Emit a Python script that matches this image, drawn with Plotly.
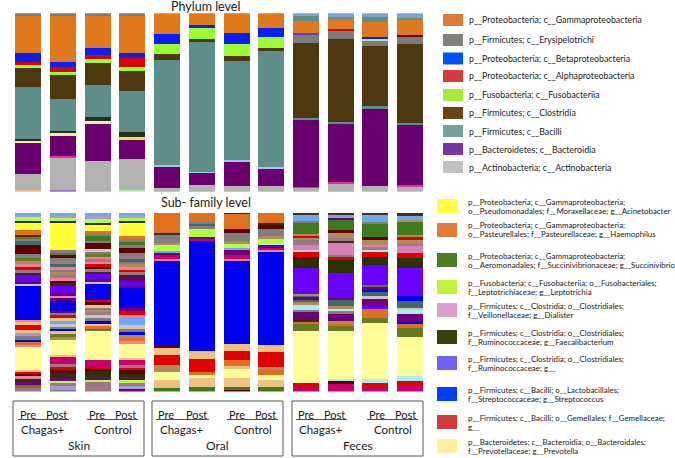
import plotly.graph_objects as go

W, H = 675, 458

samples = ["Skin Chagas+ Pre", "Skin Chagas+ Post", "Skin Control Pre", "Skin Control Post",
           "Oral Chagas+ Pre", "Oral Chagas+ Post", "Oral Control Pre", "Oral Control Post",
           "Feces Chagas+ Pre", "Feces Chagas+ Post", "Feces Control Pre", "Feces Control Post"]

# ---------------- Phylum level (segments listed top -> bottom, % abundance) ----------------
phylum_colors = {
    "gry": "#7C7C7C", "O": "#E0781E", "B": "#0A1EF5", "R": "#DD0000", "L": "#99FF33",
    "N": "#4E380F", "T": "#5F8E8A", "D": "#25301E", "W": "#F3EEA0", "P": "#6A0070",
    "A": "#B2B2B2", "E": "#F0C080", "K": "#E0309A", "U": "#A070C0", "Y": "#F0E040",
    "Lg": "#B8E8B0", "C": "#9CC8F0", "S": "#7FA2CC", "V": "#6040C0", "M": "#700010",
}
ph_skin_chagas_pre = [("gry", 1.3), ("O", 21.1), ("B", 4.7), ("R", 1.9), ("L", 1.5), ("N", 10.7),
                      ("T", 29.0), ("D", 1.5), ("W", 0.9), ("P", 17.2), ("A", 9.3), ("E", 0.9)]
ph_skin_chagas_post = [("gry", 1.3), ("O", 25.8), ("B", 3.2), ("R", 2.8), ("L", 1.5), ("N", 13.6),
                       ("T", 17.6), ("D", 1.5), ("W", 1.3), ("P", 11.4), ("K", 0.7), ("A", 18.3), ("U", 0.9)]
ph_skin_control_pre = [("gry", 1.5), ("O", 18.1), ("B", 3.7), ("R", 2.4), ("L", 2.2), ("N", 12.1),
                       ("T", 18.1), ("D", 2.4), ("W", 1.3), ("P", 20.6), ("A", 17.4)]
ph_skin_control_post = [("gry", 1.3), ("O", 20.7), ("B", 3.2), ("R", 5.0), ("L", 2.1), ("N", 11.0),
                        ("T", 23.0), ("D", 2.8), ("Y", 1.9), ("P", 10.8), ("A", 17.2), ("Lg", 0.9)]
ph_oral_chagas_pre = [("O", 11.6), ("B", 5.8), ("L", 5.6), ("N", 3.2), ("T", 58.9), ("C", 0.9),
                      ("P", 11.8), ("A", 2.2)]
ph_oral_chagas_post = [("O", 6.5), ("B", 1.9), ("L", 6.0), ("N", 1.5), ("T", 72.9), ("C", 0.6),
                       ("P", 6.9), ("A", 3.7)]
ph_oral_control_pre = [("O", 10.8), ("B", 6.4), ("L", 6.7), ("N", 2.6), ("T", 55.7), ("C", 1.1),
                       ("P", 13.5), ("A", 3.2)]
ph_oral_control_post = [("O", 8.4), ("B", 4.7), ("L", 6.2), ("N", 1.9), ("T", 64.9), ("C", 0.9),
                        ("P", 9.9), ("A", 3.2)]
ph_feces_chagas_pre = [("S", 1.5), ("T", 2.8), ("O", 6.9), ("V", 0.7), ("gry", 4.9), ("N", 42.1),
                       ("T", 0.9), ("P", 37.4), ("K", 0.6), ("A", 2.2)]
ph_feces_chagas_post = [("S", 1.9), ("T", 1.3), ("O", 5.8), ("R", 0.7), ("gry", 4.9), ("N", 46.2),
                        ("T", 1.3), ("P", 32.7), ("K", 0.7), ("A", 4.5)]
ph_feces_control_pre = [("S", 1.9), ("T", 3.2), ("O", 8.4), ("B", 0.7), ("Lg", 1.1), ("gry", 3.0),
                        ("N", 33.6), ("T", 1.7), ("M", 0.7), ("P", 42.4), ("A", 3.2)]
ph_feces_control_post = [("S", 2.4), ("T", 1.3), ("O", 8.4), ("M", 0.9), ("gry", 4.3), ("N", 43.9),
                         ("T", 1.5), ("P", 33.5), ("K", 0.7), ("A", 3.0)]
phylum_bars = [ph_skin_chagas_pre, ph_skin_chagas_post, ph_skin_control_pre, ph_skin_control_post,
               ph_oral_chagas_pre, ph_oral_chagas_post, ph_oral_control_pre, ph_oral_control_post,
               ph_feces_chagas_pre, ph_feces_chagas_post, ph_feces_control_pre, ph_feces_control_post]

# ---------------- Sub-family level (segments top -> bottom, relative abundance) ----------------
sub_colors = {
    "Y": "#FFFF33", "O": "#E07020", "G": "#3F7A1F", "L": "#B0FF40", "P": "#D880B8",
    "F": "#2B3300", "V": "#6A00FF", "B": "#0000F0", "R": "#E00000", "W": "#FFFF99",
    "M": "#600000", "K": "#7F7F7F", "S": "#3E6A6A", "T": "#B08A5A", "E": "#F0C080",
    "C": "#A8EEEE", "U": "#700078", "Q": "#C8006E", "A": "#6EA8F5", "N": "#4A2E10",
    "H": "#6A7A20", "D": "#303018", "I": "#A898D8", "X": "#A07888", "Z": "#C8C8C8",
    "J": "#F0809A",
}
sf_skin_chagas_pre = [("A", 5), ("I", 5), ("L", 13), ("D", 7), ("Y", 20), ("O", 15), ("N", 8), ("H", 6),
                      ("K", 6), ("S", 10), ("M", 28), ("K", 12), ("H", 10), ("T", 8), ("J", 10), ("R", 7),
                      ("X", 10), ("D", 5), ("V", 20), ("U", 8), ("Z", 4), ("B", 103), ("J", 5), ("E", 10),
                      ("R", 15), ("E", 10), ("I", 10), ("K", 10), ("B", 5), ("O", 10), ("J", 8), ("W", 67),
                      ("E", 5), ("R", 5), ("M", 10), ("J", 7), ("F", 8), ("U", 10), ("H", 8), ("X", 12)]
sf_skin_chagas_post = [("A", 7), ("I", 8), ("L", 8), ("D", 7), ("Y", 80), ("K", 10), ("H", 7), ("M", 8),
                       ("K", 10), ("X", 8), ("S", 10), ("J", 7), ("K", 7), ("T", 8), ("X", 10), ("J", 8),
                       ("M", 7), ("D", 7), ("V", 23), ("U", 7), ("J", 7), ("U", 8), ("B", 30), ("U", 7),
                       ("K", 7), ("R", 8), ("E", 8), ("A", 10), ("Z", 8), ("K", 6), ("B", 8), ("E", 8),
                       ("H", 10), ("T", 7), ("W", 45), ("E", 7), ("Q", 21), ("X", 10), ("R", 8), ("M", 9),
                       ("F", 15), ("U", 8), ("L", 7), ("X", 10), ("I", 10), ("K", 5)]
sf_skin_control_pre = [("A", 10), ("I", 7), ("L", 13), ("D", 5), ("Y", 18), ("O", 10), ("K", 7), ("G", 13),
                       ("K", 5), ("M", 20), ("Z", 7), ("K", 8), ("H", 7), ("J", 7), ("X", 8), ("J", 8),
                       ("R", 7), ("M", 7), ("X", 8), ("D", 5), ("V", 17), ("U", 8), ("Z", 8), ("B", 47),
                       ("R", 7), ("M", 8), ("E", 8), ("K", 7), ("T", 7), ("X", 8), ("Z", 10), ("K", 7),
                       ("B", 8), ("E", 7), ("O", 10), ("H", 6), ("W", 87), ("Q", 20), ("R", 5), ("M", 8),
                       ("F", 17), ("U", 8), ("L", 7), ("X", 8), ("X", 20)]
sf_skin_control_post = [("A", 7), ("I", 8), ("L", 8), ("D", 4), ("Y", 43), ("O", 10), ("K", 8), ("G", 9),
                        ("K", 8), ("M", 15), ("K", 7), ("X", 10), ("S", 8), ("K", 8), ("T", 7), ("J", 10),
                        ("R", 7), ("X", 8), ("D", 8), ("U", 12), ("V", 12), ("U", 8), ("B", 60), ("U", 8),
                        ("R", 12), ("J", 10), ("A", 18), ("Z", 7), ("E", 7), ("K", 8), ("B", 8), ("T", 10),
                        ("O", 10), ("J", 7), ("W", 43), ("E", 7), ("Q", 15), ("X", 8), ("R", 7), ("M", 10),
                        ("F", 10), ("U", 10), ("L", 7), ("X", 10), ("I", 8), ("U", 8)]
sf_oral_chagas_pre = [("O", 60), ("D", 5), ("K", 25), ("T", 5), ("L", 18), ("A", 5), ("U", 7), ("Q", 12),
                      ("J", 5), ("B", 258), ("M", 3), ("E", 22), ("R", 32), ("T", 20), ("W", 23), ("E", 25),
                      ("G", 10)]
sf_oral_chagas_post = [("O", 27), ("K", 6), ("S", 7), ("K", 7), ("L", 25), ("U", 6), ("Q", 7), ("B", 330),
                       ("E", 22), ("R", 40), ("O", 8), ("W", 10), ("E", 25), ("G", 15)]
sf_oral_control_pre = [("D", 3), ("O", 44), ("M", 13), ("K", 25), ("T", 5), ("L", 15), ("A", 5), ("U", 15),
                       ("Q", 12), ("J", 6), ("B", 250), ("E", 20), ("R", 27), ("O", 20), ("E", 5), ("W", 30),
                       ("E", 25), ("G", 10), ("M", 5)]
sf_oral_control_post = [("O", 30), ("D", 3), ("M", 14), ("K", 8), ("K", 15), ("T", 5), ("L", 15), ("C", 5),
                        ("U", 10), ("Q", 5), ("J", 5), ("B", 282), ("E", 20), ("R", 46), ("T", 7), ("O", 15),
                        ("W", 15), ("E", 20), ("G", 15)]
sf_feces_chagas_pre = [("N", 7), ("A", 16), ("K", 4), ("G", 36), ("T", 5), ("R", 7), ("T", 7), ("K", 6),
                       ("X", 7), ("P", 15), ("Z", 5), ("R", 18), ("M", 4), ("F", 28), ("V", 78), ("T", 4),
                       ("S", 6), ("U", 7), ("S", 7), ("T", 8), ("C", 15), ("K", 5), ("U", 25), ("D", 5),
                       ("O", 8), ("H", 7), ("H", 13), ("W", 157), ("R", 15), ("Q", 10)]
sf_feces_chagas_post = [("N", 7), ("A", 8), ("U", 6), ("G", 29), ("M", 10), ("T", 5), ("T", 10), ("X", 8),
                        ("D", 5), ("P", 37), ("K", 5), ("R", 10), ("F", 40), ("V", 75), ("U", 5), ("S", 10),
                        ("S", 10), ("T", 5), ("C", 8), ("K", 10), ("U", 22), ("T", 5), ("O", 10), ("H", 15),
                        ("W", 142), ("C", 6), ("M", 10), ("Q", 22)]
sf_feces_control_pre = [("N", 7), ("A", 20), ("K", 6), ("G", 40), ("M", 7), ("T", 7), ("T", 10), ("P", 6),
                        ("X", 7), ("C", 7), ("R", 16), ("F", 24), ("V", 60), ("H", 6), ("U", 7), ("B", 5),
                        ("S", 15), ("Z", 7), ("U", 23), ("V", 5), ("O", 10), ("O", 20), ("H", 15), ("W", 167),
                        ("C", 13), ("R", 13), ("Q", 12)]
sf_feces_control_post = [("N", 10), ("A", 10), ("T", 7), ("G", 38), ("T", 8), ("R", 7), ("T", 13), ("X", 7),
                         ("P", 20), ("R", 15), ("F", 30), ("V", 85), ("B", 13), ("S", 5), ("S", 17), ("Z", 5),
                         ("C", 13), ("U", 24), ("B", 6), ("O", 12), ("H", 28), ("W", 117), ("C", 13), ("R", 12),
                         ("Q", 20)]
sub_bars = [sf_skin_chagas_pre, sf_skin_chagas_post, sf_skin_control_pre, sf_skin_control_post,
            sf_oral_chagas_pre, sf_oral_chagas_post, sf_oral_control_pre, sf_oral_control_post,
            sf_feces_chagas_pre, sf_feces_chagas_post, sf_feces_control_pre, sf_feces_control_post]

# ---------------- Legends ----------------
phylum_legend_labels = ["p__Proteobacteria; c__Gammaproteobacteria", "p__Firmicutes; c__Erysipelotrichi",
                        "p__Proteobacteria; c__Betaproteobacteria", "p__Proteobacteria; c__Alphaproteobacteria",
                        "p__Fusobacteria; c__Fusobacteriia", "p__Firmicutes; c__Clostridia",
                        "p__Firmicutes; c__Bacilli", "p__Bacteroidetes; c__Bacteroidia",
                        "p__Actinobacteria; c__Actinobacteria"]
phylum_legend_colors = ["#DE7A3A", "#808080", "#0050FF", "#D43C3C", "#A8E838", "#6A4418", "#76A0A0",
                        "#7A34A0", "#C0C0C0"]
sub_legend_labels = [
    ("p__Proteobacteria; c__Gammaproteobacteria;", "o__Pseudomonadales; f__Moraxellaceae; g__Acinetobacter"),
    ("p__Proteobacteria; c__Gammaproteobacteria;", "o__Pasteurellales; f__Pasteurellaceae; g__Haemophilus"),
    ("p__Proteobacteria; c__Gammaproteobacteria;", "o__Aeromonadales; f__Succinivibrionaceae; g__Succinivibrio"),
    ("p__Fusobacteria; c__Fusobacteriia; o__Fusobacteriales;", "f__Leptotrichiaceae; g__Leptotrichia"),
    ("p__Firmicutes; c__Clostridia; o__Clostridiales;", "f__Veillonellaceae; g__Dialister"),
    ("p__Firmicutes; c__Clostridia; o__Clostridiales;", "f__Ruminococcaceae; g__Faecalibacterium"),
    ("p__Firmicutes; c__Clostridia; o__Clostridiales;", "f__Ruminococcaceae; g__"),
    ("p__Firmicutes; c__Bacilli; o__Lactobacillales;", "f__Streptococcaceae; g__Streptococcus"),
    ("p__Firmicutes; c__Bacilli; o__Gemellales; f__Gemellaceae;", "g__"),
    ("p__Bacteroidetes; c__Bacteroidia; o__Bacteroidales;", "f__Prevotellaceae; g__Prevotella"),
]
sub_legend_colors = ["#FFFF40", "#E07B39", "#4E7A22", "#C0F040", "#D9A0C8", "#3A3F0E", "#7060F0",
                     "#0040FF", "#D03A3A", "#FFF0A0"]

sites = ["Skin", "Oral", "Feces"]
groups = ["Chagas+", "Control"]
times = ["Pre", "Post"]

FONT = "Lato"
TXT = "#1a1a1a"


def xp(x):
    return x / W


def yp(y):
    return 1 - y / H


fig = go.Figure()


def add_stack(bars, colors, xa, ya):
    for i, segs in enumerate(bars):
        total = sum(v for _, v in segs)
        for code, v in reversed(segs):
            fig.add_trace(go.Bar(x=[i], y=[v * 100.0 / total], width=0.75,
                                 marker=dict(color=colors[code], line=dict(width=0)),
                                 xaxis=xa, yaxis=ya, showlegend=False, hoverinfo="skip"))


add_stack(phylum_bars, phylum_colors, "x", "y")
add_stack(sub_bars, sub_colors, "x2", "y2")

xdom = [xp(11.0), xp(427.4)]
ax_common = dict(range=[-0.5, 11.5], visible=False, fixedrange=True)
shapes = []
ann = []


def text(x, y, s, size, anchor="center"):
    ann.append(dict(x=xp(x), y=yp(y), xref="paper", yref="paper", text=s, showarrow=False,
                    xanchor=anchor, yanchor="middle", font=dict(family=FONT, size=size, color=TXT)))


# titles
text(205, 6, "Phylum level", 12.5)
text(206, 202, "Sub- family level", 12.5)

# top legend
top_y = [20, 40, 58.5, 76, 95, 113, 131, 149, 167]
for lab, col, yc in zip(phylum_legend_labels, phylum_legend_colors, top_y):
    shapes.append(dict(type="rect", xref="paper", yref="paper", x0=xp(443), x1=xp(463),
                       y0=yp(yc + 6), y1=yp(yc - 6), fillcolor=col, line=dict(width=0)))
    text(467, yc, lab, 8.8, "left")

# bottom legend
bot_y = [206, 230, 260, 287, 310, 337, 363, 394, 422, 446]
for (l1, l2), col, yc in zip(sub_legend_labels, sub_legend_colors, bot_y):
    shapes.append(dict(type="rect", xref="paper", yref="paper", x0=xp(437), x1=xp(457),
                       y0=yp(yc + 7), y1=yp(yc - 7), fillcolor=col, line=dict(width=0)))
    text(466, yc - 4.5, l1, 7.9, "left")
    text(466, yc + 4.5, l2, 7.9, "left")

# sample group boxes
boxes = [(13, 144), (152, 283), (292, 423)]
underlines = [[(18, 69), (87, 138)], [(156, 209), (227, 278)], [(296, 347), (367, 418)]]
for s, (bx0, bx1), uls in zip(sites, boxes, underlines):
    shapes.append(dict(type="rect", xref="paper", yref="paper", x0=xp(bx0), x1=xp(bx1),
                       y0=yp(456), y1=yp(401), line=dict(color="#555555", width=1), fillcolor="rgba(0,0,0,0)"))
    for g, (u0, u1) in zip(groups, uls):
        shapes.append(dict(type="line", xref="paper", yref="paper", x0=xp(u0), x1=xp(u1),
                           y0=yp(419.5), y1=yp(419.5), line=dict(color="#222222", width=0.8)))
        text(u0, 414, times[0], 11, "left")
        text(u1, 414, times[1], 11, "right")
        text((u0 + u1) / 2 + (-1.5 if g == "Chagas+" else 0), 429, g, 11.5)
    text((bx0 + bx1) / 2, 445, s, 12)

fig.update_layout(
    width=W, height=H, margin=dict(l=0, r=0, t=0, b=0),
    paper_bgcolor="white", plot_bgcolor="white", barmode="stack", showlegend=False,
    xaxis=dict(domain=xdom, anchor="y", **ax_common),
    yaxis=dict(domain=[yp(191.7), yp(13.3)], range=[0, 100], visible=False, fixedrange=True, anchor="x"),
    xaxis2=dict(domain=xdom, anchor="y2", **ax_common),
    yaxis2=dict(domain=[yp(391.5), yp(213)], range=[0, 100], visible=False, fixedrange=True, anchor="x2"),
    shapes=shapes, annotations=ann,
)

fig.write_html("out.html", config={"displayModeBar": False},
               post_script="document.body.style.margin='0';document.body.style.overflow='hidden';")
